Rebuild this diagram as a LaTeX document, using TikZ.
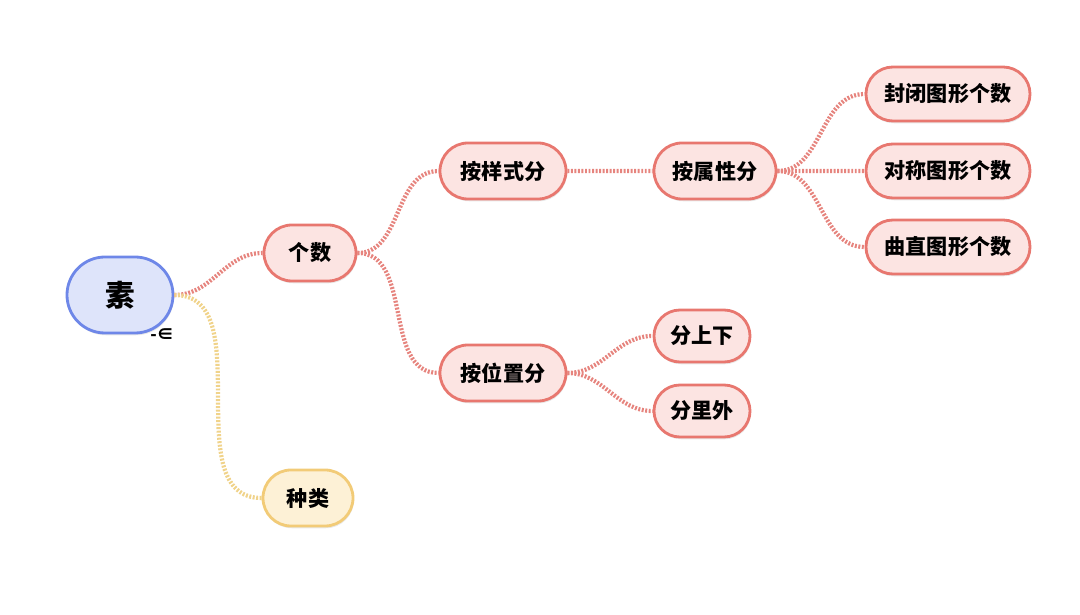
\documentclass[tikz,border=0pt]{standalone}
\usepackage{fontspec}
\newfontfamily\cjk{Noto Sans CJK SC}
\usetikzlibrary{shapes.misc,shadows}
\definecolor{redline}{HTML}{E8776F}
\definecolor{redfill}{HTML}{FCE4E2}
\definecolor{blueline}{HTML}{6E87E8}
\definecolor{bluefill}{HTML}{DEE4FA}
\definecolor{yelline}{HTML}{F2CB77}
\definecolor{yelfill}{HTML}{FDF1D6}
\definecolor{redlink}{HTML}{E6847E}
\definecolor{yellink}{HTML}{F0D38A}
\begin{document}
\begin{tikzpicture}[x=0.025cm, y=-0.025cm,
  topic/.style = {draw, rounded rectangle, line width=2pt, inner sep=0pt,
    minimum height=1.4cm, font=\cjk\bfseries\fontsize{15}{15}\selectfont,
    drop shadow={opacity=0.18, shadow xshift=0.6pt, shadow yshift=-1.6pt}},
  red/.style = {topic, draw=redline, fill=redfill},
  link/.style = {line width=3pt, dash pattern=on 1.4pt off 1.1pt, draw=redlink},
  ylink/.style = {link, draw=yellink}]
\useasboundingbox (0,0) rectangle (1080,615);
% root
\node[topic, draw=blueline, fill=bluefill, minimum width=2.65cm, minimum height=1.9cm,
  font=\cjk\bfseries\fontsize{21}{21}\selectfont] (su) at (120,295) {素};
\node[font=\cjk\bfseries\fontsize{12}{12}\selectfont] (fold) at (162,335) {-∈};
% first level
\node[red, minimum width=2.3cm] (geshu) at (310,253) {个数};
\node[topic, draw=yelline, fill=yelfill, minimum width=2.25cm] (zhonglei) at (308,498) {种类};
% second level
\node[red, minimum width=3.15cm] (yangshi) at (503,171) {按样式分};
\node[red, minimum width=3.15cm] (weizhi) at (503,373) {按位置分};
\node[red, minimum width=3.05cm] (shuxing) at (715,171) {按属性分};
\node[red, minimum width=2.4cm, minimum height=1.3cm] (shangxia) at (702,336) {分上下};
\node[red, minimum width=2.4cm, minimum height=1.3cm] (liwai) at (702,411) {分里外};
% leaves
\node[red, minimum width=4.1cm, minimum height=1.35cm] (fengbi) at (948,94) {封闭图形个数};
\node[red, minimum width=4.1cm, minimum height=1.35cm] (duicheng) at (948,171) {对称图形个数};
\node[red, minimum width=4.1cm, minimum height=1.35cm] (quzhi) at (948,247) {曲直图形个数};
% links
\draw[link] (su.east) to[out=0, in=180] (geshu.west);
\draw[ylink] (su.east) to[out=0, in=180] (zhonglei.west);
\draw[link] (geshu.east) to[out=0, in=180] (yangshi.west);
\draw[link] (geshu.east) to[out=0, in=180] (weizhi.west);
\draw[link] (yangshi) -- (shuxing);
\draw[link] (shuxing.east) to[out=0, in=180] (fengbi.west);
\draw[link] (shuxing) -- (duicheng);
\draw[link] (shuxing.east) to[out=0, in=180] (quzhi.west);
\draw[link] (weizhi.east) to[out=0, in=180] (shangxia.west);
\draw[link] (weizhi.east) to[out=0, in=180] (liwai.west);
\end{tikzpicture}
\end{document}
